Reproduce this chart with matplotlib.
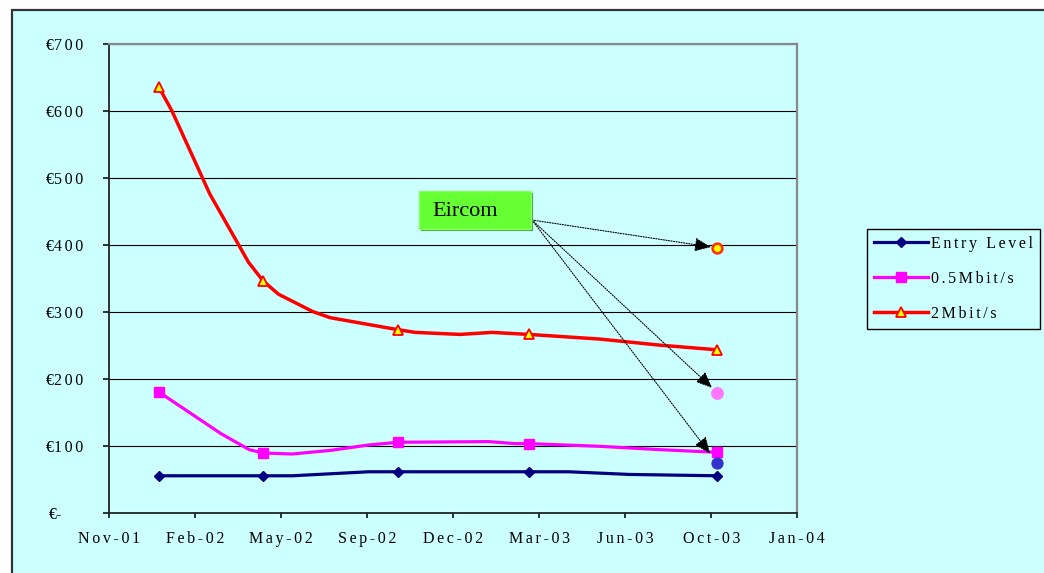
import datetime as dt
import numpy as np
import matplotlib
matplotlib.use("Agg")
import matplotlib.pyplot as plt
from matplotlib.lines import Line2D
from matplotlib.patches import Rectangle
from matplotlib.transforms import ScaledTranslation

plt.rcParams['font.family'] = ['Liberation Serif', 'DejaVu Serif']

GAP = '\u2006'


def spaced(s):
    # widen the letter spacing a little, like the old spreadsheet fonts
    return GAP.join(s)


# marked price points per product
price_dates = ['2002-01-02', '2002-05-03', '2002-10-07', '2003-03-08', '2003-10-13']
entry_level = [56, 56, 62, 62, 56]
half_mbit = [181, 90, 106, 104, 91]
two_mbit = [636, 347, 274, 267, 244]

# full traces, including the unmarked points between price changes
entry_line_dates = ['2002-01-02', '2002-05-03', '2002-06-06', '2002-09-03', '2002-10-07',
                    '2003-03-08', '2003-04-23', '2003-07-03', '2003-10-13']
entry_line_vals = [56, 56, 56, 62, 62, 62, 62, 58, 56]

half_line_dates = ['2002-01-02', '2002-03-15', '2002-04-17', '2002-05-03', '2002-06-06',
                   '2002-07-21', '2002-09-03', '2002-10-07', '2003-01-20', '2003-02-20',
                   '2003-03-08', '2003-05-29', '2003-08-07', '2003-10-13']
half_line_vals = [181, 119, 95, 90, 88.5, 94, 102, 106, 107, 104, 104, 100, 95, 91]

two_line_dates = ['2002-01-02', '2002-01-17', '2002-03-02', '2002-04-16', '2002-05-03',
                  '2002-05-21', '2002-06-30', '2002-07-20', '2002-10-07', '2002-10-27',
                  '2002-12-18', '2003-01-24', '2003-03-08', '2003-05-30', '2003-08-07',
                  '2003-10-13']
two_line_vals = [636, 601, 477, 375, 347, 327, 301, 292, 274, 270, 267, 270, 267, 260, 251, 244]

# Eircom prices, Oct-03 (entry level, 0.5Mbit/s, 2Mbit/s)
eircom_date = '2003-10-13'
eircom_vals = [75, 180, 396]

series_names = ['Entry Level', '0.5Mbit/s', '2Mbit/s']


def to_dates(lst):
    return [dt.datetime.strptime(s, '%Y-%m-%d') for s in lst]


W, H = 1044, 573
fig = plt.figure(figsize=(W / 100, H / 100), dpi=100, facecolor='white')

# chart area background with its frame
fig.add_artist(Rectangle((12 / W, -0.05), 1.1, 1 - 10 / H + 0.05, transform=fig.transFigure,
                         facecolor='#CCFFFF', edgecolor='#333333', lw=1.6, zorder=-10))

ax = fig.add_axes([109 / W, 1 - 513.3 / H, (797.3 - 109) / W, (513.3 - 44.3) / H])
ax.set_facecolor('none')

start = dt.datetime(2001, 11, 5)
ticks = [start + dt.timedelta(days=100 * k) for k in range(9)]
ax.set_xlim(ticks[0], ticks[-1])
ax.set_xticks(ticks)
ax.set_xticklabels([spaced(t.strftime('%b-%y')) for t in ticks])

ax.set_ylim(0, 700)
yt = np.arange(0, 701, 100)
ax.set_yticks(yt)
ax.set_yticklabels(['€' + spaced(str(v)) if v else '€-' for v in yt])

ax.yaxis.grid(True, color='black', lw=0.8)
ax.set_axisbelow(True)
for side in ['left', 'bottom']:
    ax.spines[side].set_color('#222222')
    ax.spines[side].set_linewidth(1.3)
for side in ['top', 'right']:
    ax.spines[side].set_color('#888888')
    ax.spines[side].set_linewidth(1.6)

ax.tick_params(axis='both', labelsize=11.5, colors='black', width=1.1, direction='out')
ax.tick_params(axis='y', length=4.5, pad=14)
ax.tick_params(axis='x', length=3.5, pad=9)

# "€-" sits further left than the other amounts
zero_lbl = ax.get_yticklabels()[0]
zero_lbl.set_transform(zero_lbl.get_transform() + ScaledTranslation(-21 / 100, 0, fig.dpi_scale_trans))

pd_ = to_dates(price_dates)

ax.plot(to_dates(entry_line_dates), entry_line_vals, color='#000080', lw=2.3,
        solid_joinstyle='round', zorder=3)
ax.plot(pd_, entry_level, ls='none', marker='D', ms=5.6, mfc='#000080', mec='#000080', zorder=4)

ax.plot(to_dates(half_line_dates), half_line_vals, color='#FF00FF', lw=2.3,
        solid_joinstyle='round', zorder=3)
ax.plot(pd_, half_mbit, ls='none', marker='s', ms=7.6, mfc='#FF00FF', mec='#FF00FF', zorder=4)

ax.plot(to_dates(two_line_dates), two_line_vals, color='#FF0000', lw=2.5,
        solid_joinstyle='round', zorder=3)
ax.plot(pd_, two_mbit, ls='none', marker='^', ms=7.8, mfc='#FFFF00', mec='#FF0000',
        mew=1.3, zorder=4)

# Eircom comparison points
ed = dt.datetime.strptime(eircom_date, '%Y-%m-%d')
ax.plot([ed], [eircom_vals[0]], ls='none', marker='o', ms=7.8, mfc='#3333CC', mec='#3333CC', zorder=5)
ax.plot([ed], [eircom_vals[1]], ls='none', marker='o', ms=8.2, mfc='#FF77FF', mec='#FF77FF', zorder=5)
ax.plot([ed], [eircom_vals[2]], ls='none', marker='o', ms=7.0, mfc='#FFFF00', mec='#FF3300',
        mew=1.9, zorder=5)

# Eircom label box with drop shadow
bx, by, bw, bh = 419, 191, 112, 38
fig.add_artist(Rectangle(((bx + 2) / W, 1 - (by + bh + 2) / H), bw / W, bh / H,
                         transform=fig.transFigure, facecolor='#3E9E1F', edgecolor='none', zorder=6))
fig.add_artist(Rectangle((bx / W, 1 - (by + bh) / H), bw / W, bh / H,
                         transform=fig.transFigure, facecolor='#66FF33', edgecolor='#88FF66',
                         lw=1, zorder=7))
fig.text(432 / W, 1 - 211 / H, 'Eircom', fontsize=16, va='center', ha='left', zorder=8)

arrow_src = (532, H - 220)
for val, shrink in zip(eircom_vals, [8.6, 5.0, 4.6]):
    ax.annotate('', xy=(ed, val), xycoords='data', xytext=arrow_src, textcoords='figure pixels',
                arrowprops=dict(arrowstyle='-|>,head_length=1.0,head_width=0.42',
                                color='black', lw=0.8, linestyle=(0, (1, 1.3)),
                                shrinkA=0, shrinkB=shrink, mutation_scale=10),
                zorder=9)

handles = [
    Line2D([], [], color='#000080', lw=2.3, marker='D', ms=5.6, mfc='#000080', mec='#000080'),
    Line2D([], [], color='#FF00FF', lw=2.3, marker='s', ms=7.6, mfc='#FF00FF', mec='#FF00FF'),
    Line2D([], [], color='#FF0000', lw=2.5, marker='^', ms=7.8, mfc='#FFFF00', mec='#FF0000', mew=1.3),
]
leg = fig.legend(handles, [spaced(n) for n in series_names], loc='upper left',
                 bbox_to_anchor=(867 / W, 1 - 229 / H), bbox_transform=fig.transFigure,
                 fontsize=11.5, frameon=True, fancybox=False, edgecolor='black',
                 facecolor='none', framealpha=1, handlelength=3.4, handletextpad=0.2,
                 labelspacing=1.2, borderpad=0.42, borderaxespad=0)
leg.get_frame().set_linewidth(1.0)

fig.savefig('out.png', dpi=100, facecolor='white')
